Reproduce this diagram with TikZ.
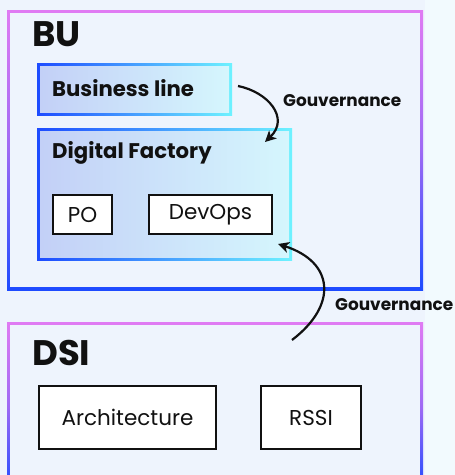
\documentclass[tikz,border=0pt]{standalone}
\usepackage{fontspec}
\setmainfont{Poppins}
\usetikzlibrary{arrows.meta}
\definecolor{bgL}{HTML}{EEF4FD}
\definecolor{bgR}{HTML}{F2FAFE}
\definecolor{pinkB}{HTML}{E07BF3}
\definecolor{purpB}{HTML}{9E6AF4}
\definecolor{blueB}{HTML}{1D4BFF}
\definecolor{cyanB}{HTML}{6EF2FF}
\definecolor{fillL}{HTML}{C3D0F7}
\definecolor{fillR}{HTML}{D5F6FD}
\definecolor{ink}{HTML}{111111}
\begin{document}
\begin{tikzpicture}[x=1pt,y=-1pt,
  outerbd/.style={anchor=north west, inner sep=0pt, draw=none, top color=pinkB, bottom color=blueB, middle color=purpB},
  outerin/.style={anchor=north west, inner sep=0pt, draw=none, fill=bgL},
  innerbd/.style={anchor=north west, inner sep=0pt, draw=none, left color=blueB, right color=cyanB},
  innerin/.style={anchor=north west, inner sep=0pt, draw=none, left color=fillL, right color=fillR},
  whitebox/.style={anchor=north west, inner sep=0pt, draw=ink, line width=2pt, fill=white},
  title/.style={anchor=base west, inner sep=0pt, font=\fontsize{35.5}{40}\selectfont\bfseries, text=ink},
  subtitle/.style={anchor=base west, inner sep=0pt, font=\fontsize{21.2}{24}\selectfont\bfseries, text=ink},
  lbl/.style={anchor=base west, inner sep=0pt, font=\fontsize{16.9}{18}\selectfont\bfseries, text=ink},
  boxtext/.style={font=\fontsize{21.5}{24}\selectfont, text=ink, inner sep=0pt},
  gov/.style={line width=2.2pt, draw=ink, -{Stealth[length=11pt,width=11pt,inset=3pt]}}
]
\useasboundingbox (0,0) rectangle (455,475);
\fill[bgL] (0,0) rectangle (425,475);
\fill[bgR] (425,0) rectangle (455,475);

% BU
\node[outerbd, minimum width=416pt, minimum height=280pt] (bu) at (7,10) {};
\node[outerin, minimum width=410pt, minimum height=274pt] (buin) at (10,13) {};
\node[title] (butxt) at (32,46.5) {BU};

% Business line
\node[innerbd, minimum width=195pt, minimum height=52pt] (bl) at (37,63) {};
\node[innerin, minimum width=189pt, minimum height=46pt] (blin) at (40,66) {};
\node[subtitle] (bltxt) at (52,96.5) {Business line};

% Digital Factory
\node[innerbd, minimum width=255pt, minimum height=132pt] (df) at (37,128) {};
\node[innerin, minimum width=249pt, minimum height=126pt] (dfin) at (40,131) {};
\node[subtitle] (dftxt) at (52,158.5) {Digital Factory};

\node[whitebox, minimum width=59pt, minimum height=39pt] (po) at (52,194) {};
\node[boxtext] at (po.center) {PO};
\node[whitebox, minimum width=123pt, minimum height=39pt] (devops) at (148,194) {};
\node[boxtext] at (devops.center) {DevOps};

% DSI
\node[outerbd, minimum width=416pt, minimum height=170pt] (dsi) at (7,322) {};
\node[outerin, minimum width=410pt, minimum height=164pt] (dsiin) at (10,325) {};
\node[title] (dsitxt) at (32,365) {DSI};

\node[whitebox, minimum width=177pt, minimum height=63pt] (arch) at (38,385) {};
\node[boxtext] at (arch.center) {Architecture};
\node[whitebox, minimum width=100pt, minimum height=63pt] (rssi) at (260,385) {};
\node[boxtext] at (rssi.center) {RSSI};

% Gouvernance arrows
\node[lbl] (g1) at (283,106.5) {Gouvernance};
\node[lbl] (g2) at (335,310.5) {Gouvernance};
\coordinate (a1s) at (238,86);
\coordinate (a1e) at (265,142);
\coordinate (a2s) at (292,340);
\coordinate (a2e) at (278,244);
\draw[gov] (a1s) .. controls (268,92) and (290,118) .. (a1e);
\draw[gov] (a2s) .. controls (338,305) and (334,262) .. (a2e);
\end{tikzpicture}
\end{document}
